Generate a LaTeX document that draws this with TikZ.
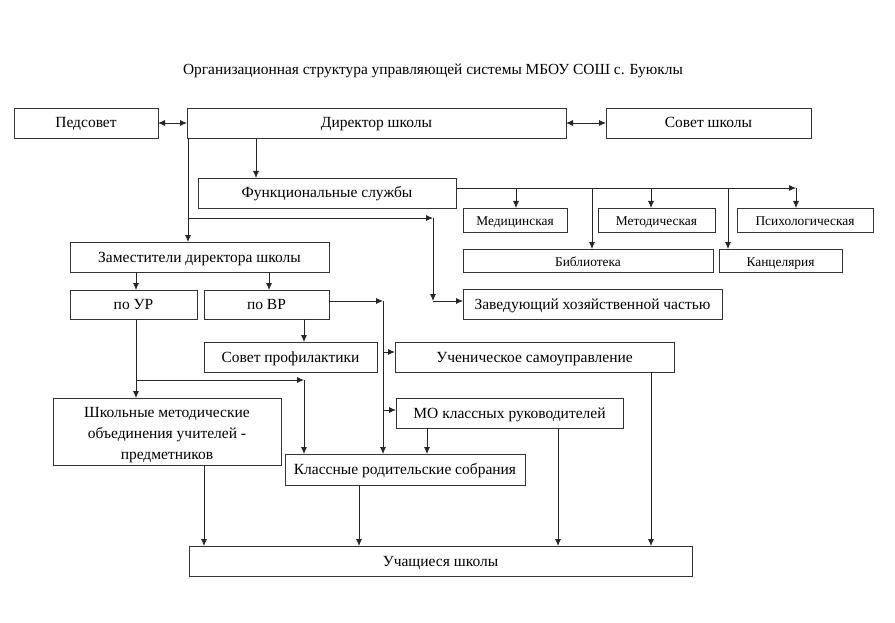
\documentclass[tikz,border=0pt]{standalone}
\usepackage{fontspec}
\setmainfont{Liberation Serif}
\usetikzlibrary{arrows.meta}
\begin{document}
\begin{tikzpicture}[x=1pt,y=-1pt,
  box/.style={draw=black!80, line width=0.8pt, inner sep=0pt, outer sep=0pt, anchor=north west, font=\fontsize{15.5}{18}\selectfont, text height=11pt, text depth=1pt},
  sbox/.style={box, font=\fontsize{13.4}{16}\selectfont, text height=11.5pt, text depth=0.5pt},
  arr/.style={draw=black!85, line width=0.8pt, -{Latex[length=7pt,width=6pt]}},
  darr/.style={draw=black!85, line width=0.8pt, {Latex[length=7pt,width=6pt]}-{Latex[length=7pt,width=6pt]}}]
\useasboundingbox[fill=white] (0,0) rectangle (895,623);
\node[font=\fontsize{15.4}{18}\selectfont] (title) at (433,71) {Организационная структура управляющей системы МБОУ СОШ с. Буюклы};
% boxes
\node[box, minimum width=144pt, minimum height=30pt] (ped) at (14,108) {Педсовет};
\node[box, minimum width=379pt, minimum height=30pt] (dir) at (187,108) {Директор школы};
\node[box, minimum width=205pt, minimum height=30pt] (sov) at (606,108) {Совет школы};
\node[box, minimum width=258pt, minimum height=30pt] (fs) at (198,178) {Функциональные службы};
\node[sbox, minimum width=104pt, minimum height=24pt] (med) at (463,208) {Медицинская};
\node[sbox, minimum width=117pt, minimum height=24pt] (met) at (598,208) {Методическая};
\node[sbox, minimum width=136pt, minimum height=24pt] (psy) at (737,208) {Психологическая};
\node[sbox, minimum width=250pt, minimum height=23pt] (bib) at (463,249) {Библиотека};
\node[sbox, minimum width=123pt, minimum height=23pt] (kan) at (719,249) {Канцелярия};
\node[box, minimum width=259pt, minimum height=30pt] (zam) at (70,242) {Заместители директора школы};
\node[box, minimum width=127pt, minimum height=29pt] (ur) at (70,290) {по УР};
\node[box, minimum width=125pt, minimum height=29pt] (vr) at (204,290) {по ВР};
\node[box, minimum width=259pt, minimum height=30pt] (zav) at (463,289) {Заведующий хозяйственной частью};
\node[box, minimum width=173pt, minimum height=30pt] (prof) at (204,342) {Совет профилактики};
\node[box, minimum width=279pt, minimum height=30pt] (uch) at (395,342) {Ученическое самоуправление};
\node[box, minimum width=228pt, minimum height=67pt, align=center, font=\fontsize{15.5}{21}\selectfont, text height=57pt, text depth=1pt] (shmo) at (53,398) {Школьные методические\\объединения учителей -\\предметников};
\node[box, minimum width=227pt, minimum height=30pt] (mo) at (396,398) {МО классных руководителей};
\node[box, minimum width=240pt, minimum height=31pt] (krs) at (285,454) {Классные родительские собрания};
\node[box, minimum width=503pt, minimum height=30pt] (stud) at (189,546) {Учащиеся школы};
% helper coordinates
\coordinate (X136) at (136,0);
\coordinate (X188) at (188,0);
\coordinate (X204) at (204,0);
\coordinate (X256) at (256,0);
\coordinate (X269) at (269,0);
\coordinate (X304) at (304,0);
\coordinate (X359) at (359,0);
\coordinate (X383) at (383,0);
\coordinate (X427) at (427,0);
\coordinate (X433) at (433,0);
\coordinate (X516) at (516,0);
\coordinate (X558) at (558,0);
\coordinate (X592) at (592,0);
\coordinate (X651) at (651,0);
\coordinate (X728) at (728,0);
\coordinate (X796) at (796,0);
\coordinate (R188) at (0,188);
\coordinate (R218) at (0,218);
\coordinate (R301) at (0,301);
\coordinate (R352) at (0,352);
\coordinate (R380) at (0,380);
\coordinate (R410) at (0,410);
% connectors top
\draw[darr] (ped.east) -- (dir.west);
\draw[darr] (dir.east) -- (sov.west);
\draw[arr] (dir.south -| X256) -- (fs.north -| X256);
% functional services bus
\draw[arr] (fs.east |- R188) -- (X796 |- R188);
\draw[arr] (X796 |- R188) -- (psy.north -| X796);
\draw[arr] (X516 |- R188) -- (med.north -| X516);
\draw[arr] (X592 |- R188) -- (bib.north -| X592);
\draw[arr] (X651 |- R188) -- (met.north -| X651);
\draw[arr] (X728 |- R188) -- (kan.north -| X728);
% director to deputies and manager
\draw[arr] (dir.south -| X188) -- (zam.north -| X188);
\draw[arr] (X188 |- R218) -- (X433 |- R218);
\draw[arr] (X433 |- R218) -- (X433 |- R301);
\draw[arr] (X433 |- R301) -- (zav.west |- R301);
% deputies
\draw[arr] (zam.south -| X136) -- (ur.north -| X136);
\draw[arr] (zam.south -| X269) -- (vr.north -| X269);
% po VR
\draw[arr] (vr.south -| X304) -- (prof.north -| X304);
\draw[arr] (vr.east |- R301) -- (X383 |- R301);
\draw[arr] (X383 |- R301) -- (krs.north -| X383);
\draw[arr] (X383 |- R352) -- (uch.west |- R352);
\draw[arr] (X383 |- R410) -- (mo.west |- R410);
% po UR
\draw[arr] (ur.south -| X136) -- (shmo.north -| X136);
\draw[arr] (X136 |- R380) -- (X304 |- R380);
\draw[arr] (X304 |- R380) -- (krs.north -| X304);
% MO
\draw[arr] (mo.south -| X427) -- (krs.north -| X427);
\draw[arr] (mo.south -| X558) -- (stud.north -| X558);
% to students
\draw[arr] (uch.south -| X651) -- (stud.north -| X651);
\draw[arr] (shmo.south -| X204) -- (stud.north -| X204);
\draw[arr] (krs.south -| X359) -- (stud.north -| X359);
\end{tikzpicture}
\end{document}
